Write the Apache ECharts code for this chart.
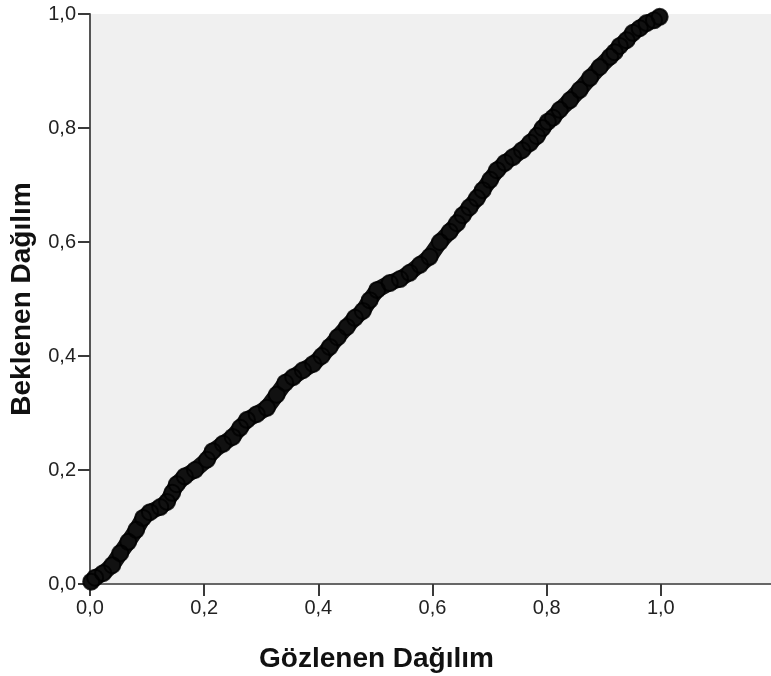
<!DOCTYPE html>
<html>
<head>
<meta charset="utf-8">
<script src="https://cdn.jsdelivr.net/npm/echarts@6/dist/echarts.min.js"></script>
<style>
  html, body { margin: 0; padding: 0; background: #fff; }
  #chart { width: 771px; height: 676px; }
</style>
</head>
<body>
<div id="chart"></div>
<script>
// gözlenen (observed) cumulative probability
const observed = [
  0.002, 0.009, 0.023, 0.039, 0.053, 0.067, 0.081, 0.093, 0.105, 0.123,
  0.135, 0.144, 0.152, 0.166, 0.184, 0.205, 0.215, 0.233, 0.250, 0.263,
  0.275, 0.292, 0.310, 0.327, 0.342, 0.356, 0.373, 0.391, 0.406, 0.420,
  0.434, 0.450, 0.464, 0.478, 0.490, 0.503, 0.525, 0.543, 0.560, 0.578,
  0.595, 0.613, 0.630, 0.643, 0.653, 0.665, 0.678, 0.688, 0.701, 0.713,
  0.727, 0.741, 0.757, 0.771, 0.783, 0.793, 0.802, 0.811, 0.823, 0.841,
  0.858, 0.876, 0.893, 0.911, 0.919, 0.928, 0.940, 0.951, 0.963, 0.975,
  0.988, 0.998
]
// beklenen (expected) cumulative probability
const expected = [
  0.004, 0.011, 0.019, 0.033, 0.054, 0.074, 0.095, 0.116, 0.126, 0.135,
  0.144, 0.160, 0.175, 0.189, 0.200, 0.218, 0.233, 0.246, 0.258, 0.274,
  0.288, 0.298, 0.309, 0.332, 0.353, 0.363, 0.375, 0.386, 0.400, 0.416,
  0.433, 0.451, 0.467, 0.479, 0.498, 0.516, 0.528, 0.535, 0.546, 0.560,
  0.574, 0.600, 0.618, 0.633, 0.647, 0.661, 0.677, 0.691, 0.709, 0.726,
  0.739, 0.749, 0.761, 0.774, 0.786, 0.800, 0.811, 0.818, 0.832, 0.849,
  0.867, 0.888, 0.907, 0.925, 0.933, 0.944, 0.954, 0.967, 0.975, 0.984,
  0.989, 0.995
]
const tickValues = [0, 0.2, 0.4, 0.6, 0.8, 1.0]

const points = observed.map((x, i) => [x, expected[i]])
const fmt = v => v.toFixed(1).replace('.', ',')

const chart = echarts.init(document.getElementById('chart'))
const labelStyle = {
  color: '#222',
  fontSize: 20,
  fontFamily: 'Liberation Sans, Arial, sans-serif',
  margin: 14,
  formatter: fmt,
  customValues: tickValues
}
const tickStyle = {
  show: true,
  inside: false,
  length: 12,
  lineStyle: { color: '#3a3a3a', width: 2 },
  customValues: tickValues
}
const titleStyle = {
  color: '#111',
  fontSize: 28,
  fontWeight: 'bold',
  fontFamily: 'Liberation Sans, Arial, sans-serif'
}

chart.setOption({
  animation: false,
  grid: {
    left: 90,
    right: 0,
    top: 14,
    bottom: 92,
    containLabel: false,
    outerBoundsMode: 'none',
    show: true,
    backgroundColor: '#f0f0f0',
    borderWidth: 0
  },
  xAxis: [
    {
      type: 'value',
      min: 0,
      max: 1.193,
      name: 'Gözlenen Dağılım',
      nameLocation: 'middle',
      nameGap: 61,
      nameTextStyle: Object.assign({}, titleStyle, { padding: [0, 108, 0, 0] }),
      axisLine: { show: true, onZero: false, lineStyle: { color: '#555', width: 2 } },
      axisTick: tickStyle,
      axisLabel: labelStyle,
      splitLine: { show: false }
    },
    {
      // top border of the plot
      type: 'value',
      position: 'top',
      min: 0,
      max: 1.193,
      axisLine: { show: true, lineStyle: { color: '#666', width: 2 } },
      axisTick: { show: false },
      axisLabel: { show: false },
      splitLine: { show: false }
    }
  ],
  yAxis: {
    type: 'value',
    min: 0,
    max: 1,
    interval: 0.2,
    name: 'Beklenen Dağılım',
    nameLocation: 'middle',
    nameGap: 54,
    nameTextStyle: titleStyle,
    axisLine: { show: true, onZero: false, lineStyle: { color: '#555', width: 2 } },
    axisTick: tickStyle,
    axisLabel: labelStyle,
    splitLine: { show: false }
  },
  series: [
    {
      type: 'line',
      data: points,
      symbol: 'none',
      clip: false,
      lineStyle: { color: '#111', width: 16, cap: 'round', join: 'round' },
      z: 2
    },
    {
      type: 'scatter',
      data: points,
      symbol: 'circle',
      symbolSize: 16,
      clip: false,
      itemStyle: {
        color: 'rgba(0,0,0,0)',
        borderColor: '#000',
        borderWidth: 2
      },
      z: 3
    }
  ]
})
</script>
</body>
</html>
